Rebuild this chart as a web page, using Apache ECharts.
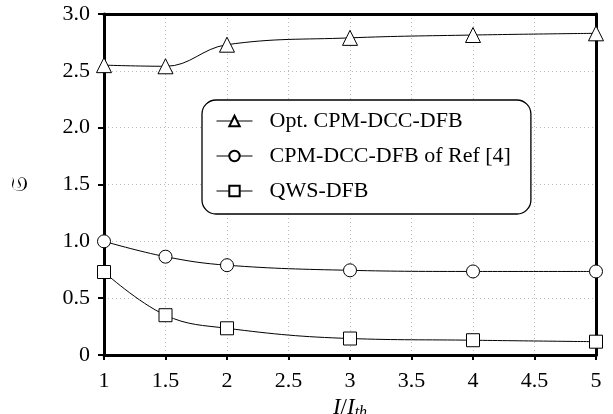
<!DOCTYPE html>
<html>
<head>
<meta charset="utf-8">
<script src="https://cdn.jsdelivr.net/npm/echarts@6/dist/echarts.min.js"></script>
<style>
  html, body { margin: 0; padding: 0; background: #fff; }
  #chart { width: 613px; height: 414px; }
</style>
</head>
<body>
<div id="chart"></div>
<script>
const currentRatio = [1, 1.5, 2, 3, 4, 5]
const optCpm = [2.55, 2.54, 2.73, 2.79, 2.815, 2.83]
const refCpm = [1.0, 0.865, 0.79, 0.745, 0.735, 0.735]
const qws = [0.73, 0.35, 0.235, 0.145, 0.13, 0.117]
const seriesNames = ['Opt. CPM-DCC-DFB', 'CPM-DCC-DFB of Ref [4]', 'QWS-DFB']

const chart = echarts.init(document.getElementById('chart'))
const font = '"Liberation Serif", "DejaVu Serif", serif'
const dotted = { show: true, lineStyle: { color: '#bbb', type: [1, 3], width: 1 } }

const pairs = vals => currentRatio.map((x, i) => [x, vals[i]])

const makeSeries = (name, vals, symbol, size) => ({
  name,
  type: 'line',
  data: pairs(vals),
  smooth: 0.4,
  symbol,
  symbolSize: size,
  showAllSymbol: true,
  lineStyle: { color: '#000', width: 1 },
  itemStyle: { color: '#fff', borderColor: '#000', borderWidth: 1 },
  z: 3
})

// second pair of axes only draws the top and right frame
const frameAxis = {
  min: 0, max: 1,
  axisLine: { show: true, onZero: false, lineStyle: { color: '#000', width: 3 } },
  axisTick: { show: false },
  axisLabel: { show: false },
  splitLine: { show: false }
}

const option = {
  animation: false,
  backgroundColor: '#fff',
  grid: { left: 104, right: 17, top: 14, bottom: 59, containLabel: false, outerBoundsMode: 'none' },
  xAxis: [{
    type: 'value',
    min: 1, max: 5, interval: 0.5,
    axisLine: { onZero: false, lineStyle: { color: '#000', width: 3 } },
    axisTick: { length: 5, lineStyle: { color: '#000', width: 2 } },
    axisLabel: {
      color: '#000', fontFamily: font, fontSize: 22, margin: 15,
      formatter: v => String(v)
    },
    splitLine: dotted,
    name: '{i|I}{n|/}{i|I}{s|th}',
    nameLocation: 'middle',
    nameGap: 37,
    nameTextStyle: {
      rich: {
        i: { fontFamily: font, fontStyle: 'italic', fontSize: 23, color: '#000' },
        n: { fontFamily: font, fontSize: 23, color: '#000' },
        s: { fontFamily: font, fontStyle: 'italic', fontSize: 16, color: '#000', verticalAlign: 'bottom', padding: [9, 0, 0, 0] }
      }
    }
  }, Object.assign({ type: 'value', position: 'top' }, frameAxis)],
  yAxis: [{
    type: 'value',
    min: 0, max: 3, interval: 0.5,
    axisLine: { show: true, onZero: false, lineStyle: { color: '#000', width: 3 } },
    axisTick: { show: true, length: 6, lineStyle: { color: '#000', width: 2 } },
    axisLabel: {
      color: '#000', fontFamily: font, fontSize: 22, margin: 14,
      formatter: v => v === 0 ? '0' : v.toFixed(1)
    },
    splitLine: dotted,
    name: '𝔖',
    nameLocation: 'middle',
    nameGap: 72,
    nameRotate: 90,
    nameTextStyle: { color: '#000', fontSize: 22, fontFamily: '"DejaVu Sans", "DejaVu Serif", serif' }
  }, Object.assign({ type: 'value', position: 'right' }, frameAxis)],
  legend: {
    orient: 'vertical',
    left: 202,
    top: 100,
    width: 333,
    padding: [10, 20, 12, 14],
    itemGap: 13,
    itemWidth: 36,
    itemHeight: 13,
    backgroundColor: '#fff',
    borderColor: '#000',
    borderWidth: 1.3,
    borderRadius: 14,
    lineStyle: { width: 1 },
    textStyle: { color: '#000', fontFamily: font, fontSize: 22, padding: [0, 0, 0, 12] },
    data: seriesNames
  },
  series: [
    makeSeries(seriesNames[0], optCpm, 'triangle', 15),
    makeSeries(seriesNames[1], refCpm, 'circle', 13),
    makeSeries(seriesNames[2], qws, 'rect', 13)
  ]
}

chart.setOption(option)
</script>
</body>
</html>
